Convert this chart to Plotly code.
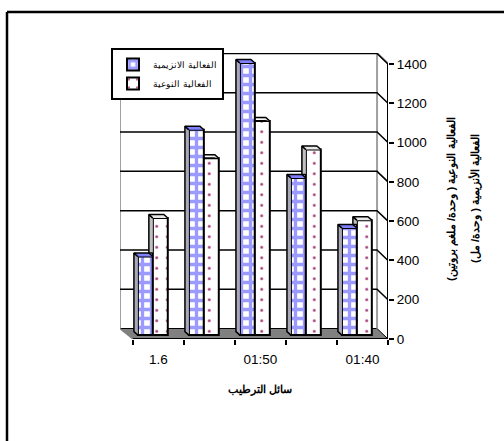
import plotly.graph_objects as go

categories = ["1.6", "", "01:50", "", "01:40"]
enzyme_activity = [400, 1045, 1385, 800, 545]
specific_activity = [596, 900, 1090, 945, 585]
y_ticks = [0, 200, 400, 600, 800, 1000, 1200, 1400]
name_a = "الفعالية الانزيمية"
name_b = "الفعالية النوعية"
title_x = "سائل الترطيب"
title_y1 = "الفعالية النوعية ( وحدة/ ملغم بروتين)"
title_y2 = "الفعالية الأنزيمية ( وحدة/ مل)"

FONT = "Liberation Sans, Arial, sans-serif"
W, H = 504, 441
L, R, T, B = 120, 388, 53, 339
UX = 51.2      # px per category
UY = 275 / 1400
XMIN = -(133 - L) / UX
XMAX = 5
YMAX = (B - T) / UY
DEPTH_X = 11 / UX
DEPTH_Y = 10.5 / UY
BAR_W = 15 / UX
BAR_SHIFT = -0.11
LIFT = 20
BDX = 4 / UX
BDY = 3.5 / UY

fig = go.Figure()


def poly(xs, ys, fill, line="black", width=1.5, top=False):
    fig.add_trace(go.Scatter(x=xs, y=ys, mode="lines", fill="toself", fillcolor=fill,
                             xaxis="x2" if top else "x", yaxis="y2" if top else "y",
                             line=dict(color=line, width=width), showlegend=False, hoverinfo="skip"))


def seg(xs, ys, color="black", width=1.5):
    fig.add_trace(go.Scatter(x=xs, y=ys, mode="lines", line=dict(color=color, width=width),
                             showlegend=False, hoverinfo="skip"))


x_idx = [i + 0.5 for i in range(len(categories))]

# floor
poly([0, XMAX, XMAX - DEPTH_X, XMIN], [0, 0, DEPTH_Y, DEPTH_Y], "#808080", "black", 1)

# back wall
seg([XMIN, XMIN], [DEPTH_Y, YMAX], "#a0a0a0", 2)
seg([XMAX - DEPTH_X, XMAX - DEPTH_X], [DEPTH_Y, YMAX], "#a0a0a0", 2)
seg([XMIN, XMAX - DEPTH_X, XMAX], [YMAX, YMAX, YMAX - DEPTH_Y], "#a0a0a0", 2)
seg([XMIN, 0], [DEPTH_Y, 0], "#808080", 1.5)

# gridlines on the back wall and their slanted ends
for v in y_ticks[1:]:
    seg([XMIN, XMAX - DEPTH_X, XMAX], [v + DEPTH_Y, v + DEPTH_Y, v], "black", 1.5)

# axes
seg([XMAX, XMAX], [0, 1400], "black", 2)
seg([0, XMAX], [0, 0], "black", 2)

fig.add_trace(go.Bar(x=x_idx, y=enzyme_activity, base=LIFT, width=BAR_W, offset=BAR_SHIFT - BAR_W,
                     name=name_a, xaxis="x2", yaxis="y2",
                     marker=dict(color="white", line=dict(color="black", width=2),
                                 pattern=dict(shape="+", bgcolor="white", fgcolor="#9a9aff",
                                              size=9, solidity=0.6, fillmode="replace"))))
fig.add_trace(go.Bar(x=x_idx, y=specific_activity, base=LIFT, width=BAR_W, offset=BAR_SHIFT,
                     name=name_b, xaxis="x2", yaxis="y2",
                     marker=dict(color="white", line=dict(color="black", width=2),
                                 pattern=dict(shape=".", bgcolor="white", fgcolor="#a8407a",
                                              size=10.5, solidity=0.06, fillmode="replace"))))

# 3D faces of the bars, computed from the values
for i, xc in enumerate(x_idx):
    a = enzyme_activity[i]
    b = specific_activity[i]
    xa0 = xc + BAR_SHIFT - BAR_W
    xa1 = xc + BAR_SHIFT
    xb1 = xc + BAR_SHIFT + BAR_W
    poly([xa0, xa0 - BDX, xa0 - BDX, xa0], [LIFT, LIFT + BDY, a + LIFT + BDY, a + LIFT], "#a8a8b8", top=True)
    poly([xa0, xa0 - BDX, xa1 - BDX, xa1], [a + LIFT, a + LIFT + BDY, a + LIFT + BDY, a + LIFT], "#8080ff", top=True)
    if b > a:
        poly([xa1, xa1 - BDX, xa1 - BDX, xa1], [a + LIFT + BDY, a + LIFT + BDY, b + LIFT + BDY, b + LIFT], "#c0c0c0", top=True)
        poly([xa1, xa1 - BDX, xb1 - BDX, xb1], [b + LIFT, b + LIFT + BDY, b + LIFT + BDY, b + LIFT], "#e8e8e8", top=True)
    else:
        poly([xa1, xb1 - BDX, xb1], [b + LIFT + BDY, b + LIFT + BDY, b + LIFT], "#e8e8e8", top=True)

fig.update_layout(
    width=W, height=H, margin=dict(l=L, r=W - R, t=T, b=H - B, autoexpand=False),
    paper_bgcolor="white", plot_bgcolor="white", barmode="overlay",
    font=dict(family=FONT, size=12, color="black"),
    xaxis=dict(range=[XMIN, XMAX], tickmode="array", tickvals=x_idx, ticktext=categories,
               ticks="", ticklen=0, showgrid=False, zeroline=False, showline=False,
               tickfont=dict(size=13.5), ticklabelstandoff=10,
               minor=dict(tickmode="array", tickvals=[0, 1, 2, 3, 4, 5], ticks="outside",
                          ticklen=5, tickwidth=2, tickcolor="black", showgrid=False)),
    yaxis=dict(range=[0, YMAX], side="right", tickmode="array", tickvals=y_ticks,
               ticks="outside", ticklen=5, tickwidth=2, tickcolor="black",
               showgrid=False, zeroline=False, showline=False, tickfont=dict(size=13.5)),
    xaxis2=dict(range=[XMIN, XMAX], overlaying="x", visible=False),
    yaxis2=dict(range=[0, YMAX], overlaying="y", visible=False),
    legend=dict(x=(111 - L) / (R - L), y=(B - 48) / (B - T), xanchor="left", yanchor="top",
                bgcolor="white", bordercolor="black", borderwidth=2,
                font=dict(size=9, family=FONT), traceorder="normal",
                itemwidth=30, tracegroupgap=8),
    showlegend=True,
    annotations=[
        dict(text="<b>%s</b>" % title_x, xref="paper", yref="paper", showarrow=False,
             xanchor="center", yanchor="middle",
             x=(260 - L) / (R - L), y=(B - 389) / (B - T), font=dict(size=10.5)),
        dict(text="<b>%s</b>" % title_y1, xref="paper", yref="paper", showarrow=False, textangle=-90,
             xanchor="center", yanchor="middle",
             x=(452 - L) / (R - L), y=(B - 199) / (B - T), font=dict(size=11.4)),
        dict(text="<b>%s</b>" % title_y2, xref="paper", yref="paper", showarrow=False, textangle=-90,
             xanchor="center", yanchor="middle",
             x=(475 - L) / (R - L), y=(B - 199) / (B - T), font=dict(size=11.4)),
    ],
    shapes=[
        dict(type="line", xref="paper", yref="paper", x0=(7 - L) / (R - L), x1=(504 - L) / (R - L),
             y0=(B - 12) / (B - T), y1=(B - 12) / (B - T), line=dict(color="black", width=2.5)),
        dict(type="line", xref="paper", yref="paper", x0=(7 - L) / (R - L), x1=(7 - L) / (R - L),
             y0=(B - 12) / (B - T), y1=(B - 441) / (B - T), line=dict(color="black", width=2.5)),
    ],
)
fig.write_html("out.html", config={"displayModeBar": False},
               post_script="document.body.style.margin='0';document.body.style.overflow='hidden';")
